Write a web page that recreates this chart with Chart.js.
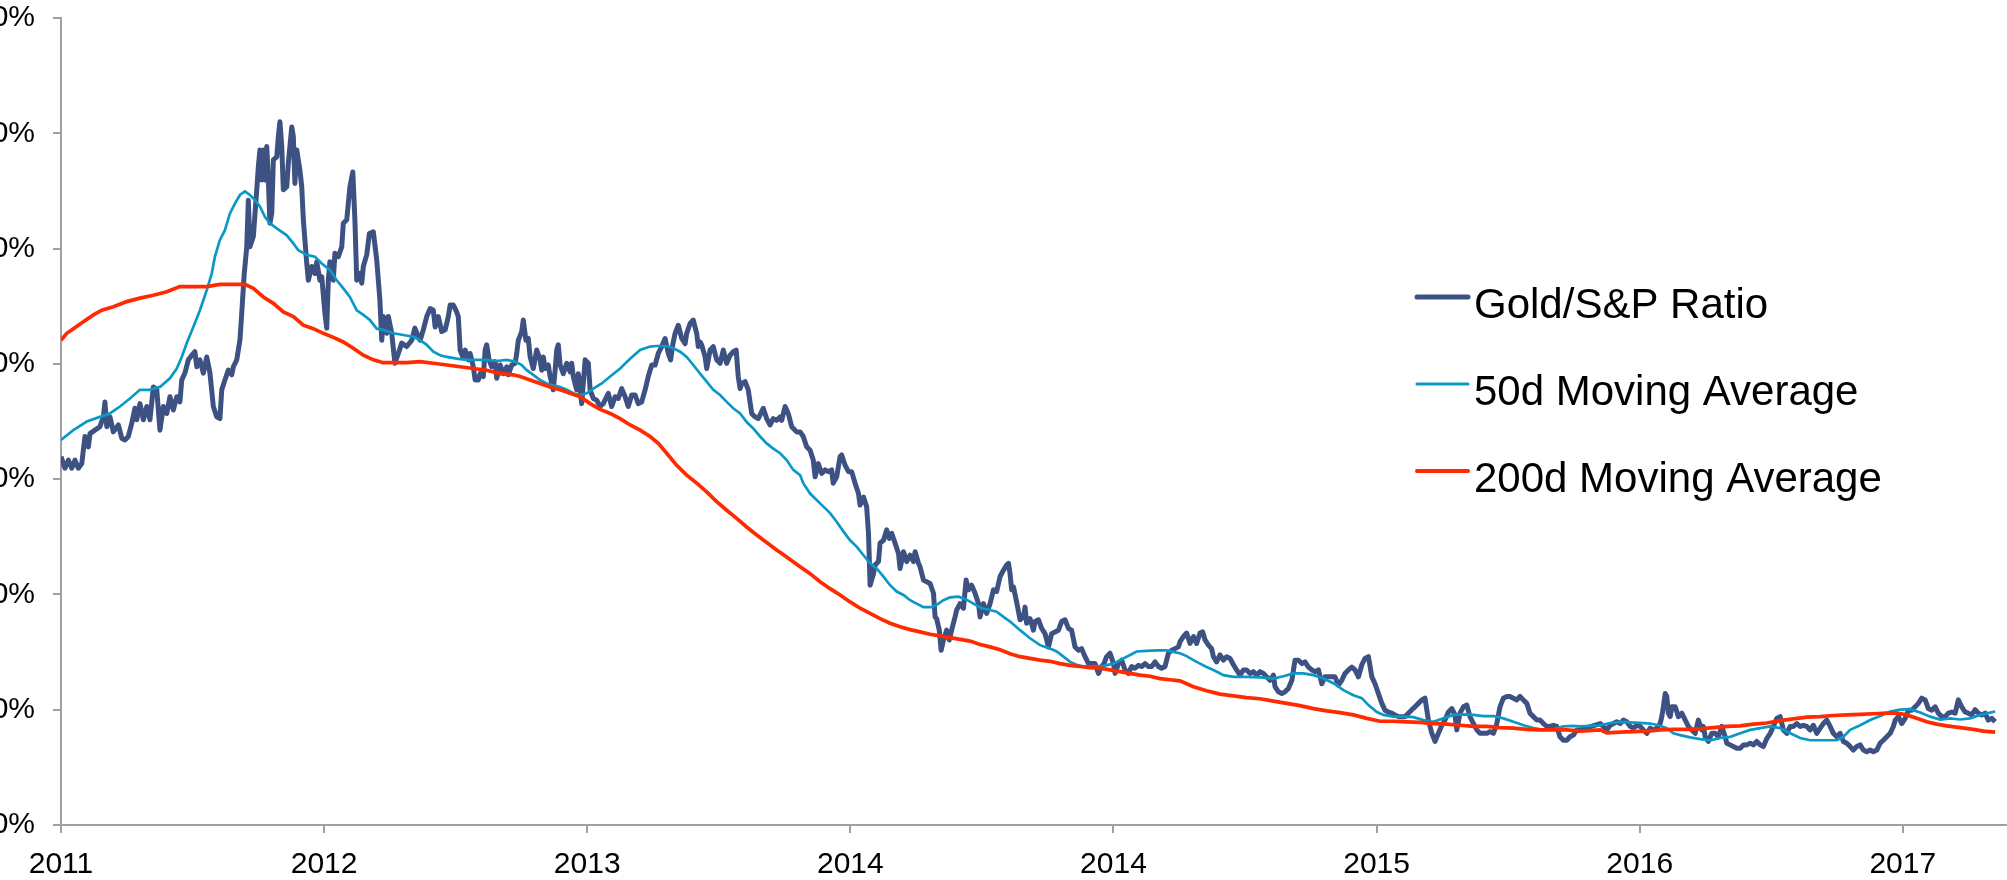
<!DOCTYPE html>
<html lang="en">

<head>
    <meta charset="UTF-8">
    <title>Gold/S&amp;P Ratio</title>
    <style>
        html, body { margin: 0; padding: 0; background: #fff; overflow: hidden; }
        #Wrap { position: relative; width: 2007px; height: 880px; overflow: hidden; }
        /* the canvas starts left of (and above) the page, so only the tail of the y labels shows */
        #Grafico { position: absolute; left: -100px; top: -18px; }
    </style>
</head>

<body>
    <div id="Wrap">
        <canvas id="Grafico" width="2107" height="898"></canvas>
    </div>
</body>

</html>
<script src="https://cdn.jsdelivr.net/npm/chart.js"></script>
<script>
    // x is in axis-tick units (0 = first label, 1 = second ...), y in percent
    const xLabels = ['2011', '2012', '2013', '2014', '2014', '2015', '2016', '2017'];
    const xMax = 7.396;
    const yMin = 40;
    const yMax = 180;
    const yStep = 20;

    const ratio = [
        [0, 103.9], [.015, 101.9], [.028, 103.3], [.041, 101.9], [.053, 103.3], [.066, 101.9], [.079, 102.7], [.091, 107.4],
        [.104, 105.6], [.110, 107.9], [.129, 108.5], [.148, 109.1], [.161, 110.8], [.167, 113.4], [.174, 109.1], [.186, 110.8],
        [.199, 108.2], [.218, 109.4], [.231, 107.1], [.243, 106.8], [.256, 107.4], [.269, 109.7], [.281, 112.3], [.288, 110.3],
        [.300, 113.1], [.313, 110.3], [.326, 112.6], [.338, 110.3], [.351, 116.0], [.364, 115.5], [.376, 108.5], [.389, 112.6],
        [.402, 111.4], [.414, 114.3], [.427, 112.0], [.440, 114.3], [.452, 113.4], [.459, 117.2], [.471, 118.4], [.484, 120.7],
        [.497, 121.5], [.509, 122.1], [.516, 119.5], [.528, 120.7], [.541, 118.4], [.554, 121.2], [.566, 118.4], [.579, 112.6],
        [.592, 110.8], [.604, 110.5], [.611, 115.5], [.623, 117.2], [.636, 118.9], [.649, 118.1], [.655, 119.5], [.668, 120.7],
        [.680, 124.1], [.687, 128.8], [.696, 135.4], [.706, 140.3], [.712, 148.4], [.718, 140.3], [.731, 142.1], [.744, 150.2],
        [.750, 154.2], [.756, 157.1], [.763, 151.9], [.769, 157.1], [.775, 151.9], [.782, 157.7], [.788, 151.9], [.794, 144.4],
        [.801, 146.1], [.807, 155.4], [.820, 155.9], [.826, 159.4], [.832, 162.0], [.839, 157.7], [.845, 150.2], [.858, 150.7],
        [.864, 154.8], [.877, 161.1], [.883, 159.4], [.889, 151.3], [.896, 157.1], [.908, 153.6], [.915, 150.7], [.921, 145.0],
        [.934, 137.4], [.940, 134.5], [.953, 136.9], [.965, 135.7], [.972, 137.7], [.984, 134.5], [.991, 135.1], [1.003, 128.8],
        [1.010, 126.2], [1.016, 134.5], [1.022, 137.7], [1.035, 134.5], [1.041, 139.2], [1.054, 138.6], [1.067, 140.3], [1.073, 144.4],
        [1.086, 145.0], [1.098, 150.7], [1.109, 153.3], [1.117, 145.0], [1.124, 134.5], [1.136, 135.7], [1.143, 134.0], [1.149, 136.9],
        [1.162, 138.9], [1.172, 142.6], [1.187, 142.9], [1.200, 138.0], [1.212, 131.1], [1.219, 124.1], [1.225, 128.2], [1.238, 125.3],
        [1.244, 128.2], [1.257, 125.3], [1.269, 120.1], [1.282, 121.8], [1.295, 123.6], [1.314, 123.0], [1.333, 124.1], [1.345, 126.2],
        [1.358, 124.7],
        [1.365, 124.1], [1.377, 125.9], [1.390, 128.2], [1.403, 129.6], [1.415, 129.3], [1.422, 126.4], [1.434, 128.2], [1.447, 125.6],
        [1.460, 125.9], [1.472, 128.2], [1.479, 130.2], [1.491, 130.2], [1.501, 129.3], [1.510, 128.2], [1.517, 122.4], [1.527, 121.2],
        [1.536, 122.4], [1.548, 120.7], [1.555, 121.8], [1.567, 119.5], [1.574, 117.2], [1.586, 117.2], [1.593, 118.3], [1.605, 117.8],
        [1.612, 122.4], [1.618, 123.3], [1.627, 120.7], [1.637, 119.5], [1.650, 120.4], [1.656, 117.5], [1.669, 119.8], [1.681, 118.3],
        [1.694, 119.5], [1.700, 118.1], [1.713, 119.8], [1.726, 120.1], [1.732, 121.8], [1.738, 124.1], [1.751, 125.6], [1.757, 127.6],
        [1.767, 124.1], [1.776, 124.4], [1.783, 121.2], [1.795, 119.2], [1.808, 122.4], [1.821, 120.7], [1.827, 118.9], [1.833, 121.2],
        [1.840, 119.2], [1.852, 119.8], [1.859, 117.8], [1.871, 115.5], [1.878, 118.9], [1.884, 122.4], [1.890, 123.3], [1.897, 119.8],
        [1.909, 118.3], [1.922, 120.1], [1.935, 118.6], [1.941, 120.1], [1.947, 117.8], [1.960, 115.5], [1.966, 118.3], [1.979, 113.1],
        [1.992, 120.7], [2.004, 120.1], [2.011, 115.5], [2.023, 114.0], [2.036, 113.7], [2.049, 112.6], [2.061, 113.1], [2.080, 114.9],
        [2.093, 112.6], [2.106, 114.3], [2.118, 114.0], [2.131, 115.7], [2.144, 114.3], [2.156, 112.6], [2.169, 114.6], [2.182, 114.6],
        [2.194, 113.1], [2.207, 113.4], [2.220, 115.5], [2.232, 117.8], [2.245, 119.8], [2.258, 119.8], [2.270, 121.8], [2.283, 123.0],
        [2.296, 124.4], [2.308, 121.8], [2.317, 120.7], [2.325, 123.3], [2.334, 125.3], [2.346, 126.7], [2.359, 124.4], [2.372, 123.5],
        [2.378, 125.3], [2.391, 127.0], [2.403, 127.6], [2.416, 125.3], [2.422, 123.0], [2.429, 123.8], [2.435, 123.3], [2.448, 121.2],
        [2.454, 119.2], [2.467, 122.4], [2.479, 123.0], [2.492, 120.7], [2.505, 120.1], [2.517, 122.4], [2.530, 120.1], [2.543, 121.5],
        [2.555, 122.1], [2.566, 122.4], [2.574, 117.8], [2.581, 115.7], [2.587, 116.6], [2.600, 116.9], [2.612, 115.5], [2.625, 111.4],
        [2.638, 110.8], [2.650, 110.5], [2.669, 112.3], [2.682, 110.5], [2.695, 109.4], [2.707, 110.5], [2.720, 110.2], [2.733, 110.8],
        [2.739, 110.2], [2.752, 112.6], [2.764, 111.4], [2.777, 109.1], [2.796, 108.2],
        [2.809, 108.2], [2.821, 107.4], [2.834, 105.6], [2.847, 105.0], [2.859, 103.3], [2.866, 100.4], [2.878, 102.7], [2.891, 101.0],
        [2.904, 101.6], [2.916, 101.3], [2.929, 101.6], [2.935, 99.3], [2.948, 100.4], [2.961, 103.9], [2.967, 104.2], [2.980, 102.4],
        [2.993, 101.3], [3.005, 101.3], [3.018, 99.3], [3.031, 97.5], [3.037, 95.5], [3.050, 96.9], [3.062, 95.2], [3.069, 90.6],
        [3.075, 81.6], [3.088, 83.6], [3.094, 85.1], [3.107, 85.7], [3.113, 88.9], [3.126, 89.4], [3.138, 91.2], [3.148, 89.7],
        [3.157, 90.6], [3.170, 88.9], [3.183, 87.1], [3.189, 84.5], [3.202, 87.4], [3.214, 85.7], [3.227, 86.8], [3.240, 85.7],
        [3.246, 87.4], [3.259, 85.4], [3.265, 84.8], [3.278, 82.5], [3.290, 82.2], [3.303, 81.9], [3.316, 80.2], [3.322, 76.1],
        [3.328, 75.8], [3.338, 73.8], [3.345, 70.3], [3.354, 72.1], [3.366, 73.8], [3.376, 72.1], [3.385, 73.8], [3.398, 76.1],
        [3.404, 77.3], [3.417, 78.4], [3.430, 77.6], [3.440, 82.5], [3.449, 80.8], [3.461, 81.6], [3.474, 80.2], [3.487, 78.4],
        [3.493, 76.1], [3.506, 78.4], [3.518, 76.7], [3.531, 78.4], [3.544, 80.8], [3.556, 80.5], [3.569, 83.1], [3.582, 84.2],
        [3.594, 85.1], [3.601, 85.4], [3.607, 83.6], [3.613, 80.8], [3.620, 81.3], [3.632, 78.7], [3.645, 75.6], [3.658, 76.1],
        [3.664, 77.8], [3.670, 75.0], [3.683, 75.8], [3.696, 73.8], [3.702, 75.3], [3.715, 75.6], [3.727, 74.1], [3.740, 73.2],
        [3.753, 70.9], [3.765, 73.2], [3.778, 73.5], [3.791, 73.8], [3.803, 75.3], [3.816, 75.6], [3.829, 74.1], [3.841, 73.8],
        [3.854, 70.9], [3.867, 70.3], [3.879, 70.6], [3.892, 69.2], [3.905, 68.0], [3.917, 68.0], [3.930, 68.0], [3.943, 66.3],
        [3.955, 67.5], [3.964, 68.0], [3.974, 69.2], [3.987, 69.8], [4.000, 68.0], [4.006, 66.3], [4.019, 68.0], [4.031, 68.6],
        [4.044, 66.9], [4.057, 66.3], [4.069, 67.5], [4.082, 67.2], [4.095, 67.7], [4.107, 67.5], [4.120, 68.0], [4.133, 67.5],
        [4.145, 67.5], [4.158, 68.3], [4.171, 67.5], [4.183, 67.2], [4.196, 67.5], [4.209, 69.8], [4.221, 70.3], [4.234, 70.6],
        [4.247, 70.9],
        [4.253, 71.8], [4.266, 72.7], [4.278, 73.3], [4.291, 71.5], [4.304, 72.7], [4.316, 71.5], [4.329, 73.3], [4.339, 73.5],
        [4.348, 72.1], [4.361, 71.2], [4.373, 70.6], [4.380, 69.2], [4.392, 68.3], [4.405, 69.5], [4.418, 68.6], [4.430, 69.2],
        [4.443, 68.9], [4.456, 67.8], [4.468, 66.9], [4.481, 66.0], [4.494, 66.9], [4.506, 66.9], [4.519, 66.3], [4.532, 66.6],
        [4.544, 66.0], [4.557, 66.6], [4.570, 66.3], [4.582, 65.7], [4.595, 65.1], [4.608, 66.0], [4.614, 64.0], [4.627, 63.1],
        [4.640, 62.8], [4.652, 63.1], [4.665, 63.7], [4.678, 65.1], [4.690, 68.6], [4.703, 68.6], [4.716, 68.0], [4.728, 68.3],
        [4.741, 67.4], [4.754, 66.9], [4.766, 66.6], [4.779, 66.9], [4.792, 64.5], [4.804, 65.7], [4.817, 65.7], [4.830, 65.7],
        [4.842, 65.7], [4.855, 64.3], [4.868, 65.1], [4.880, 66.3], [4.893, 66.9], [4.906, 67.4], [4.918, 66.9], [4.931, 65.7],
        [4.944, 67.8], [4.956, 68.9], [4.969, 69.2], [4.982, 65.7], [4.994, 64.5], [5.007, 62.8], [5.020, 61.1], [5.032, 59.9],
        [5.045, 59.6], [5.058, 59.4], [5.070, 59.1], [5.083, 58.8], [5.096, 58.8], [5.108, 58.8], [5.121, 59.4], [5.134, 60.0],
        [5.146, 60.5], [5.159, 61.1], [5.172, 61.7], [5.184, 62.0], [5.197, 58.2], [5.210, 55.9], [5.222, 54.5], [5.235, 55.9],
        [5.248, 57.3], [5.260, 58.2], [5.273, 59.6], [5.286, 60.2], [5.298, 59.1], [5.305, 56.5], [5.317, 59.4], [5.330, 60.5],
        [5.343, 60.8], [5.355, 58.8], [5.368, 57.6], [5.381, 56.5], [5.393, 55.9], [5.406, 55.9], [5.419, 55.9], [5.431, 56.2],
        [5.444, 55.9], [5.457, 57.6], [5.469, 60.5], [5.482, 62.0], [5.495, 62.3], [5.507, 62.3], [5.520, 62.0], [5.533, 61.7],
        [5.545, 62.3], [5.558, 61.7], [5.571, 61.1], [5.583, 59.4], [5.596, 58.8], [5.609, 58.2], [5.621, 58.2], [5.634, 57.6],
        [5.647, 57.1], [5.659, 57.1], [5.672, 57.3], [5.685, 57.1], [5.697, 55.3], [5.710, 54.7], [5.723, 54.7], [5.735, 55.3],
        [5.748, 55.6], [5.761, 56.5], [5.773, 56.5],
        [5.850, 57.6], [5.862, 57.1], [5.875, 56.5], [5.888, 57.3], [5.900, 57.6], [5.913, 57.9], [5.926, 57.6], [5.938, 58.2],
        [5.951, 57.9], [5.964, 57.1], [5.976, 56.8], [5.989, 57.3], [6.002, 57.1], [6.014, 56.5], [6.027, 55.9], [6.040, 56.8],
        [6.052, 56.5], [6.065, 56.8], [6.078, 57.6], [6.084, 58.8], [6.090, 60.5], [6.097, 62.8], [6.103, 62.3], [6.109, 59.4],
        [6.116, 58.8], [6.122, 60.5], [6.135, 60.5], [6.147, 58.8], [6.160, 59.4], [6.173, 58.2], [6.185, 57.1], [6.198, 56.5],
        [6.211, 55.9], [6.223, 58.2], [6.236, 56.5], [6.242, 57.1], [6.249, 55.3], [6.261, 54.5], [6.274, 55.9], [6.287, 55.9],
        [6.299, 55.3], [6.312, 57.1], [6.325, 55.3], [6.331, 54.2], [6.344, 53.9], [6.356, 53.6], [6.369, 53.3], [6.382, 53.3],
        [6.394, 53.9], [6.407, 53.9], [6.420, 54.2], [6.432, 53.9], [6.445, 54.5], [6.458, 53.9], [6.470, 53.6], [6.483, 55.0],
        [6.496, 55.9], [6.508, 57.1], [6.521, 58.5], [6.534, 58.8], [6.546, 56.5], [6.559, 55.9], [6.572, 57.1], [6.584, 57.1],
        [6.597, 57.6], [6.610, 57.1], [6.622, 57.3], [6.635, 57.1], [6.648, 56.5], [6.660, 57.3], [6.673, 55.9], [6.686, 56.8],
        [6.698, 57.6], [6.711, 58.2], [6.724, 57.1], [6.736, 55.9], [6.749, 55.3], [6.762, 55.9], [6.774, 54.5], [6.787, 54.2],
        [6.800, 53.6], [6.812, 53.0], [6.825, 53.6], [6.838, 53.9], [6.850, 53.0], [6.863, 52.7], [6.876, 53.0], [6.888, 52.7],
        [6.901, 53.0], [6.914, 54.2], [6.926, 54.7], [6.939, 55.3], [6.952, 55.9], [6.964, 57.1], [6.971, 58.2], [6.983, 58.8],
        [6.996, 57.6], [7.009, 58.5], [7.021, 59.9], [7.034, 59.9], [7.047, 60.5], [7.059, 61.1], [7.072, 62.0], [7.085, 61.7],
        [7.097, 60.2], [7.110, 59.9], [7.123, 60.5], [7.135, 59.4], [7.148, 58.8], [7.161, 58.8], [7.173, 59.4], [7.186, 59.6],
        [7.199, 59.4], [7.211, 61.7], [7.224, 60.5], [7.237, 59.6], [7.249, 59.4], [7.262, 59.1], [7.275, 60.0], [7.287, 59.4],
        [7.300, 59.1], [7.313, 59.4], [7.325, 58.2], [7.338, 58.5], [7.351, 57.9]
    ];

    const ma50 = [
        [0, 106.8], [.047, 108.5], [.098, 110.0], [.148, 110.8], [.186, 111.4], [.224, 112.6], [.262, 114.0], [.300, 115.5],
        [.338, 115.5], [.376, 116.0], [.414, 117.5], [.440, 119.2], [.459, 121.2], [.478, 123.6], [.503, 126.4], [.528, 129.3],
        [.554, 132.8], [.573, 135.7], [.585, 138.6], [.604, 141.5], [.623, 143.2], [.642, 146.1], [.661, 147.8], [.680, 149.3],
        [.699, 149.9], [.718, 149.3], [.737, 148.4], [.756, 147.3], [.775, 145.5], [.794, 144.4], [.820, 143.5], [.858, 142.3],
        [.883, 140.9], [.902, 139.7], [.934, 138.9], [.965, 138.6], [.991, 137.4], [1.022, 136.3], [1.048, 134.5], [1.073, 133.1],
        [1.098, 131.6], [1.124, 129.3], [1.149, 128.5], [1.174, 127.6], [1.200, 126.1], [1.225, 125.9], [1.263, 125.3], [1.301, 125.0],
        [1.339, 124.7],
        [1.365, 124.1], [1.390, 123.3], [1.415, 122.1], [1.441, 121.5], [1.466, 121.2], [1.504, 120.9], [1.542, 120.7], [1.580, 120.7],
        [1.618, 120.7], [1.656, 120.5], [1.694, 120.7], [1.726, 120.4], [1.751, 119.8], [1.770, 118.9], [1.795, 118.1], [1.821, 117.2],
        [1.846, 116.6], [1.871, 116.3], [1.897, 116.0], [1.922, 115.5], [1.947, 114.9], [1.973, 114.6], [1.998, 114.9], [2.023, 115.7],
        [2.055, 116.6], [2.087, 117.8], [2.125, 119.2], [2.163, 120.9], [2.201, 122.4], [2.239, 123.0], [2.264, 123.1], [2.302, 123.1],
        [2.327, 122.7], [2.353, 122.1], [2.378, 121.2], [2.403, 119.8], [2.429, 118.3], [2.454, 116.9], [2.479, 115.5], [2.505, 114.6],
        [2.530, 113.4], [2.555, 112.3], [2.581, 111.4], [2.606, 109.9], [2.631, 108.8], [2.657, 107.4], [2.682, 106.2], [2.707, 105.3],
        [2.733, 104.5], [2.758, 103.3], [2.783, 101.6],
        [2.809, 100.7], [2.821, 99.3], [2.847, 97.5], [2.885, 95.8], [2.923, 94.1], [2.948, 92.6], [2.974, 90.9], [2.999, 89.4],
        [3.024, 88.3], [3.050, 86.8], [3.075, 85.4], [3.100, 84.5], [3.126, 83.1], [3.151, 81.6], [3.176, 80.5], [3.202, 79.9],
        [3.227, 79.0], [3.252, 78.4], [3.278, 77.8], [3.309, 77.8], [3.328, 78.2], [3.354, 79.0], [3.379, 79.5], [3.411, 79.6],
        [3.442, 79.1], [3.468, 78.4], [3.499, 77.6], [3.531, 77.3], [3.556, 77.0], [3.582, 76.1], [3.607, 75.3], [3.645, 73.8],
        [3.683, 72.4], [3.721, 71.2], [3.759, 70.6], [3.784, 70.1], [3.810, 69.2], [3.835, 68.3], [3.860, 67.8], [3.886, 67.5],
        [3.924, 67.5], [3.962, 67.6], [4.000, 68.0], [4.038, 68.9], [4.063, 69.5], [4.088, 70.1], [4.126, 70.2], [4.164, 70.3],
        [4.202, 70.3], [4.240, 69.9],
        [4.253, 69.8], [4.278, 69.3], [4.304, 68.6], [4.329, 68.0], [4.354, 67.4], [4.380, 66.9], [4.418, 66.0], [4.456, 65.7],
        [4.506, 65.7], [4.557, 65.6], [4.608, 65.4], [4.646, 65.8], [4.684, 66.3], [4.722, 66.3], [4.760, 66.0], [4.798, 65.4],
        [4.836, 64.6], [4.874, 63.4], [4.912, 62.5], [4.944, 62.0], [4.969, 60.8], [5.001, 59.6], [5.026, 59.1], [5.064, 58.8],
        [5.102, 58.8], [5.140, 58.7], [5.178, 58.2], [5.216, 57.9], [5.254, 58.5], [5.292, 59.1], [5.330, 59.2], [5.368, 59.1],
        [5.406, 58.9], [5.444, 58.9], [5.482, 58.5], [5.520, 57.9], [5.558, 57.3], [5.596, 56.8], [5.634, 56.5], [5.672, 56.6],
        [5.710, 57.1], [5.748, 57.2], [5.773, 57.1],
        [5.850, 57.3], [5.888, 57.7], [5.926, 57.9], [5.964, 57.8], [6.002, 57.7], [6.040, 57.6], [6.071, 57.3], [6.103, 56.8],
        [6.128, 55.9], [6.154, 55.6], [6.192, 55.2], [6.230, 54.9], [6.268, 54.7], [6.306, 55.1], [6.344, 55.3], [6.382, 55.9],
        [6.420, 56.5], [6.458, 56.8], [6.496, 57.1], [6.534, 56.8], [6.572, 55.9], [6.610, 55.1], [6.648, 54.7], [6.686, 54.7],
        [6.724, 54.7], [6.749, 54.7], [6.774, 55.3], [6.800, 56.5], [6.838, 57.3], [6.876, 58.2], [6.914, 58.9], [6.952, 59.7],
        [6.990, 60.0], [7.028, 60.1], [7.066, 59.5], [7.104, 58.8], [7.142, 58.3], [7.180, 58.5], [7.218, 58.3], [7.256, 58.5],
        [7.294, 59.1], [7.351, 59.7]
    ];

    const ma200 = [
        [0, 124.1], [.022, 125.3], [.047, 126.1], [.085, 127.3], [.123, 128.5], [.155, 129.3], [.199, 129.9], [.250, 130.8],
        [.300, 131.4], [.351, 131.9], [.402, 132.5], [.452, 133.4], [.503, 133.4], [.554, 133.4], [.604, 133.8], [.655, 133.8],
        [.699, 133.8], [.731, 133.1], [.769, 131.6], [.807, 130.5], [.845, 129.0], [.883, 128.2], [.921, 126.7], [.959, 126.1],
        [.997, 125.3], [1.035, 124.6], [1.073, 123.8], [1.111, 122.7], [1.149, 121.5], [1.187, 120.7], [1.225, 120.2], [1.263, 120.2],
        [1.314, 120.2],
        [1.365, 120.4], [1.415, 120.1], [1.466, 119.8], [1.517, 119.5], [1.567, 119.2], [1.618, 118.9], [1.669, 118.3], [1.719, 118.1],
        [1.745, 117.8], [1.783, 117.2], [1.821, 116.6], [1.859, 116.0], [1.897, 115.5], [1.935, 114.9], [1.973, 114.3], [2.011, 113.1],
        [2.049, 112.1], [2.087, 111.4], [2.125, 110.5], [2.163, 109.4], [2.201, 108.5], [2.239, 107.4], [2.270, 106.2], [2.302, 104.5],
        [2.340, 102.4], [2.378, 100.7], [2.416, 99.3], [2.454, 97.8], [2.492, 96.1], [2.530, 94.6], [2.568, 93.2], [2.606, 91.7],
        [2.644, 90.3], [2.682, 89.0], [2.720, 87.7], [2.758, 86.5],
        [2.809, 84.8], [2.847, 83.6], [2.885, 82.2], [2.923, 81.0], [2.961, 79.9], [2.999, 78.7], [3.037, 77.6], [3.075, 76.7],
        [3.113, 75.8], [3.151, 75.0], [3.189, 74.4], [3.227, 73.9], [3.265, 73.5], [3.303, 73.1], [3.341, 72.8], [3.379, 72.5],
        [3.417, 72.2], [3.455, 71.9], [3.493, 71.3], [3.531, 70.9], [3.569, 70.4], [3.607, 69.7], [3.645, 69.2], [3.683, 68.9],
        [3.721, 68.6], [3.759, 68.4], [3.797, 68.0], [3.835, 67.7], [3.873, 67.5], [3.911, 67.3], [3.949, 67.2], [3.987, 66.9],
        [4.025, 66.6], [4.063, 66.3], [4.101, 66.0], [4.139, 65.8], [4.177, 65.4], [4.215, 65.2],
        [4.253, 65.0], [4.304, 64.0], [4.354, 63.3], [4.405, 62.7], [4.456, 62.4], [4.506, 62.1], [4.557, 61.9], [4.608, 61.5],
        [4.659, 61.1], [4.709, 60.7], [4.760, 60.2], [4.811, 59.8], [4.861, 59.5], [4.912, 59.1], [4.963, 58.5], [5.013, 58.0],
        [5.064, 58.0], [5.115, 57.9], [5.165, 57.8], [5.216, 57.6], [5.267, 57.5], [5.317, 57.3], [5.368, 57.1], [5.419, 57.1],
        [5.469, 56.9], [5.520, 56.8], [5.571, 56.6], [5.621, 56.5], [5.672, 56.5], [5.723, 56.5], [5.773, 56.3],
        [5.850, 56.5], [5.875, 56.0], [5.926, 56.1], [5.976, 56.2], [6.027, 56.3], [6.078, 56.5], [6.128, 56.6], [6.179, 56.6],
        [6.230, 56.7], [6.280, 56.9], [6.331, 57.1], [6.382, 57.2], [6.432, 57.5], [6.483, 57.7], [6.534, 58.1], [6.584, 58.4],
        [6.635, 58.7], [6.686, 58.8], [6.736, 59.0], [6.787, 59.1], [6.838, 59.2], [6.888, 59.3], [6.939, 59.4], [6.977, 59.4],
        [7.015, 59.1], [7.053, 58.5], [7.091, 57.9], [7.129, 57.5], [7.167, 57.2], [7.218, 56.9], [7.268, 56.6], [7.306, 56.3],
        [7.351, 56.1]
    ];

    const seriesNames = ['Gold/S&P Ratio', '50d Moving Average', '200d Moving Average'];
    const seriesColors = ['#3d5282', '#0a99c6', '#ff2a00'];

    const fonte = '"Liberation Sans", Arial, Helvetica, sans-serif';
    const cinza = '#a0a0a0';

    function pontos(lista) {
        return lista.map((p) => ({ x: p[0], y: p[1] }));
    }

    // legend on the right, drawn by hand like the Excel one
    const legendaLateral = {
        id: 'legendaLateral',
        afterDraw(chart) {
            const ctx = chart.ctx;
            const area = chart.chartArea;
            const espessuras = [5, 3, 4];
            ctx.save();
            ctx.font = '42px ' + fonte;
            ctx.fillStyle = '#000';
            ctx.textBaseline = 'alphabetic';
            chart.data.datasets.forEach((ds, i) => {
                const y = area.top + 279 + i * 87;
                ctx.strokeStyle = ds.borderColor;
                ctx.lineWidth = espessuras[i];
                ctx.lineCap = 'round';
                ctx.beginPath();
                ctx.moveTo(area.left + 1356, y);
                ctx.lineTo(area.left + 1407, y);
                ctx.stroke();
                ctx.fillText(ds.label, area.left + 1413, y + 21);
            });
            ctx.restore();
        }
    };

    new Chart(document.getElementById('Grafico'), {
        type: 'line',
        data: {
            datasets: [{
                label: seriesNames[0],
                data: pontos(ratio),
                borderColor: seriesColors[0],
                borderWidth: 5,
                borderJoinStyle: 'round',
                order: 3
            }, {
                label: seriesNames[1],
                data: pontos(ma50),
                borderColor: seriesColors[1],
                borderWidth: 2.7,
                order: 2
            }, {
                label: seriesNames[2],
                data: pontos(ma200),
                borderColor: seriesColors[2],
                borderWidth: 3.7,
                order: 1
            }]
        },
        options: {
            responsive: false,
            animation: false,
            devicePixelRatio: 1,
            layout: { padding: 0 },
            elements: {
                point: { radius: 0, hoverRadius: 0 },
                line: { tension: 0, fill: false }
            },
            plugins: {
                legend: { display: false },
                tooltip: { enabled: false }
            },
            scales: {
                x: {
                    type: 'linear',
                    min: 0,
                    max: xMax,
                    afterBuildTicks: (scale) => {
                        scale.ticks = xLabels.map((l, i) => ({ value: i }));
                    },
                    afterFit: (scale) => { scale.height = 55; },
                    ticks: {
                        callback: (value) => xLabels[Math.round(value)],
                        color: '#000',
                        font: { family: fonte, size: 30 },
                        padding: 14,
                        maxRotation: 0,
                        autoSkip: false
                    },
                    grid: { drawOnChartArea: false, drawTicks: true, tickLength: 8, color: cinza, lineWidth: 2 },
                    border: { color: cinza, width: 2 }
                },
                y: {
                    min: yMin,
                    max: yMax,
                    afterFit: (scale) => { scale.width = 161; },
                    ticks: {
                        stepSize: yStep,
                        callback: (value) => value + '%',
                        color: '#000',
                        font: { family: fonte, size: 30 },
                        padding: 18
                    },
                    grid: { drawOnChartArea: false, drawTicks: true, tickLength: 8, color: cinza, lineWidth: 2 },
                    border: { color: cinza, width: 2 }
                }
            }
        },
        plugins: [legendaLateral]
    });
</script>
